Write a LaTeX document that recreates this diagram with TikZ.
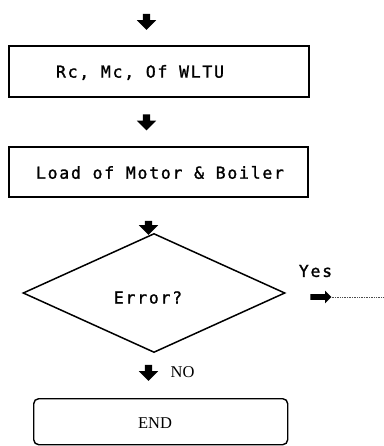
\documentclass[tikz,border=0pt]{standalone}
\usepackage{fontspec}
\setmainfont{Liberation Serif}
\newfontfamily\monofont[LetterSpace=10.5,FakeBold=1.3]{DejaVu Sans Mono}
\usetikzlibrary{shapes.geometric,shapes.arrows}
\begin{document}
\begin{tikzpicture}[x=1pt,y=-1pt,
  procbox/.style={draw=black,line width=1.6pt,minimum width=300pt,minimum height=51pt,inner sep=0pt,anchor=north west},
  monotext/.style={font=\monofont\fontsize{16.5}{19}\selectfont,inner sep=0pt},
  seriftext/.style={font=\fontsize{16.5}{19}\selectfont,inner sep=0pt},
  downarrow/.style={single arrow,fill=black,draw=none,inner sep=3.5pt,single arrow head extend=6pt,minimum height=16pt,shape border rotate=270},
  rightarrow/.style={single arrow,fill=black,draw=none,inner sep=2.6pt,single arrow head extend=3.6pt,minimum height=21pt}]
\useasboundingbox (0,0) rectangle (383,446);
% top arrow
\node[downarrow] (a0) at (146.5,20) {};
% box 1
\node[procbox] (b1) at (8,45) {};
\node[monotext] (t1) at (140,72.5) {Rc, Mc, Of WLTU};
\node[downarrow] (a1) at (146.5,120.5) {};
% box 2
\node[procbox,minimum height=50pt,minimum width=299pt] (b2) at (8,146) {};
\node[monotext] (t2) at (160,172.5) {Load of Motor \& Boiler};
\node[downarrow,minimum height=14pt] (a2) at (148.5,226) {};
% decision
\node[diamond,draw=black,line width=1.5pt,minimum width=262pt,minimum height=119pt,inner sep=0pt] (d) at (154,293) {};
\node[monotext] (t3) at (148,297.5) {Error?};
\node[monotext] (yes) at (315.5,271) {Yes};
\node[rightarrow] (ar) at (319.5,297) {};
\coordinate (out) at (383,297);
\draw[line width=0.7pt,densely dotted,black!70] (ar.east) -- (out);
% no
\node[downarrow] (a3) at (148.5,371) {};
\node[seriftext] (no) at (182.5,372.5) {NO};
% end
\node[draw=black,line width=1.4pt,rounded corners=5pt,minimum width=254pt,minimum height=46pt,inner sep=0pt,anchor=north west] (e) at (33,398) {};
\node[seriftext] (te) at (155,423) {END};
\end{tikzpicture}
\end{document}
